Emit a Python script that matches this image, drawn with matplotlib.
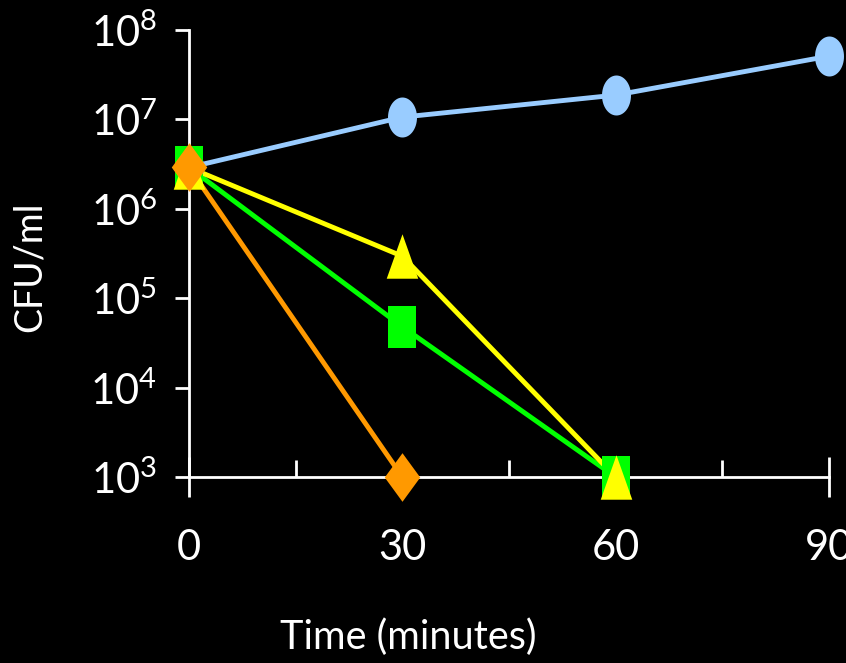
import numpy as np
import matplotlib
matplotlib.use("Agg")
import matplotlib.pyplot as plt
from matplotlib.ticker import FixedLocator, NullLocator, FixedFormatter

plt.rcParams['font.family'] = ['Lato', 'DejaVu Sans']
plt.rcParams['mathtext.fontset'] = 'custom'
plt.rcParams['mathtext.rm'] = 'Lato'
plt.rcParams['mathtext.it'] = 'Lato'

# data (time in minutes, CFU/ml)
time = [0, 30, 60, 90]
time_short = [0, 30, 60]
time_orange = [0, 30]
blue_cfu = [2.9e6, 1.06e7, 1.87e7, 5.1e7]
green_cfu = [2.9e6, 4.8e4, 1.0e3]
yellow_cfu = [2.9e6, 2.95e5, 1.0e3]
orange_cfu = [2.9e6, 1.0e3]
y_ticks = [1e3, 1e4, 1e5, 1e6, 1e7, 1e8]
y_labels = [r'$10^{%d}$' % p for p in range(3, 9)]
x_ticks = [0, 30, 60, 90]
x_minor = [15, 45, 75]

# markers are a bit taller than wide, like in the original
t = np.linspace(0, 2 * np.pi, 60)
ellipse = list(zip(0.725 * np.cos(t), np.sin(t)))
rect = [(-0.69, -1), (0.69, -1), (0.69, 1), (-0.69, 1), (-0.69, -1)]
tri = [(0, 1), (0.71, -1), (-0.71, -1), (0, 1)]
diam = [(0, 1), (0.73, 0), (0, -1), (-0.73, 0), (0, 1)]

fig = plt.figure(figsize=(8.46, 6.63), dpi=100, facecolor='black')
ax = fig.add_axes([189 / 846, 1 - 477 / 663, 640 / 846, 447 / 663])
ax.set_facecolor('black')

blue = '#99CCFF'
green = '#00FF00'
yellow = '#FFFF00'
orange = '#FF9900'
lw = 3.5

# lines first, markers on top
ax.plot(time, blue_cfu, color=blue, lw=lw, clip_on=False, zorder=3)
ax.plot(time_short, green_cfu, color=green, lw=lw, clip_on=False, zorder=3)
ax.plot(time_short, yellow_cfu, color=yellow, lw=lw, clip_on=False, zorder=3)
ax.plot(time_orange, orange_cfu, color=orange, lw=lw, clip_on=False, zorder=3)

ax.plot(time, blue_cfu, ls='none', marker=ellipse, ms=28.8, color=blue,
        mew=0, clip_on=False, zorder=4)
ax.plot(time_short, green_cfu, ls='none', marker=rect, ms=30, color=green,
        mew=0, clip_on=False, zorder=4)
ax.plot(time_short, yellow_cfu, ls='none', marker=tri, ms=32, color=yellow,
        mew=0, clip_on=False, zorder=4)
ax.plot(time_orange, orange_cfu, ls='none', marker=diam, ms=35, color=orange,
        mew=0, clip_on=False, zorder=4)

ax.set_yscale('log')
ax.set_ylim(1e3, 1e8)
ax.set_xlim(0, 90)

ax.yaxis.set_major_locator(FixedLocator(y_ticks))
ax.yaxis.set_major_formatter(FixedFormatter(y_labels))
ax.yaxis.set_minor_locator(NullLocator())
ax.xaxis.set_major_locator(FixedLocator(x_ticks))
ax.xaxis.set_minor_locator(FixedLocator(x_minor))

for side in ['top', 'right']:
    ax.spines[side].set_visible(False)
for side in ['left', 'bottom']:
    ax.spines[side].set_color('white')
    ax.spines[side].set_linewidth(2)

ax.tick_params(axis='y', which='major', direction='out', length=10, width=2,
               color='white', labelcolor='white', labelsize=30, pad=13)
ax.tick_params(axis='x', which='major', direction='inout', length=29, width=2,
               color='white', labelcolor='white', labelsize=30, pad=23)
ax.tick_params(axis='x', which='minor', direction='in', length=12, width=2,
               color='white')

fig.text(408 / 846, 1 - 637 / 663, 'Time (minutes)', color='white',
         fontsize=28.5, ha='center', va='center')
fig.text(30 / 846, 1 - 267 / 663, 'CFU/ml', color='white', fontsize=27,
         rotation=90, ha='center', va='center')

fig.savefig('out.png', dpi=100, facecolor='black')
